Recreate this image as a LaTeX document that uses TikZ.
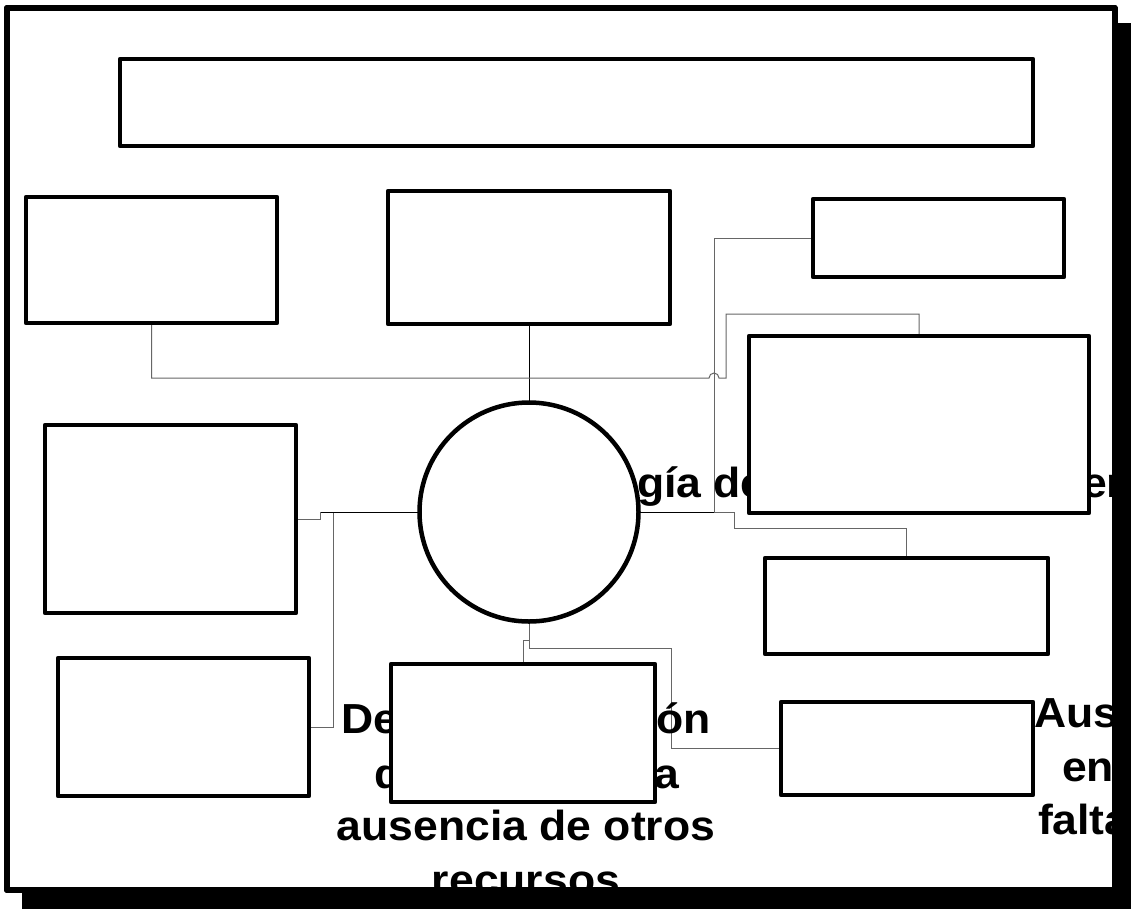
\documentclass[tikz,border=0pt]{standalone}
\usepackage{fontspec}
\setmainfont{Liberation Sans}
\usepackage{graphicx}
\begin{document}
\begin{tikzpicture}[x=1pt,y=-1pt,
  box/.style={rectangle, draw=black, fill=white, line width=4.5pt, line join=round, inner sep=0pt, outer sep=0pt},
  ring/.style={circle, draw=black, fill=white, line width=4.5pt, inner sep=0pt, outer sep=0pt},
  conn/.style={line width=1pt, draw=black!60},
  connk/.style={line width=1pt, draw=black},
  lbl/.style={inner sep=0pt, outer sep=0pt, font=\bfseries\fontsize{42}{53.5}\selectfont}]
\useasboundingbox (0,0) rectangle (1131,908);
% shadow and frame
\fill[black] (22,23) rectangle (1140,920);
\draw[line width=6pt, fill=white, line join=round] (7,8) rectangle (1114.5,890);

% node geometry (shapes drawn later on top of the texts)
\path (576.5,102.5) node[box, draw=none, fill=none, minimum width=913pt, minimum height=87pt] (title) {};
\path (151.5,260) node[box, draw=none, fill=none, minimum width=251pt, minimum height=126pt] (tl) {};
\path (529,257.5) node[box, draw=none, fill=none, minimum width=282pt, minimum height=133pt] (tm) {};
\path (938.5,238) node[box, draw=none, fill=none, minimum width=251pt, minimum height=78pt] (tr) {};
\path (919,424.5) node[box, draw=none, fill=none, minimum width=340pt, minimum height=177pt] (rbig) {};
\path (906.5,606) node[box, draw=none, fill=none, minimum width=283pt, minimum height=96pt] (rmid) {};
\path (907,748.5) node[box, draw=none, fill=none, minimum width=252pt, minimum height=93pt] (rlow) {};
\path (523,733) node[box, draw=none, fill=none, minimum width=264pt, minimum height=138pt] (bm) {};
\path (170.5,519) node[box, draw=none, fill=none, minimum width=251pt, minimum height=188pt] (lmid) {};
\path (183.5,727) node[box, draw=none, fill=none, minimum width=251pt, minimum height=138pt] (llow) {};
\path (529,512) node[ring, draw=none, fill=none, minimum size=219pt] (circ) {};

% connectors
\draw[connk] (tm.south) -- (circ.north);
\draw[conn] (tl.south) |- (709,378) arc[start angle=180, end angle=0, radius=5pt] -- (726,378) -- (726,314) -| (rbig.north);
\draw[conn] (tr.west) -| (714,512) -- (circ.east);
\draw[conn] (circ.east) -- (734,512) -- (734,528) -| (rmid.north);
\draw[connk] (circ.east) -- (714,512);
\draw[connk] (circ.west) -- (320,512);
\draw[conn] (320,512) |- (lmid.east);
\draw[conn] (circ.west) -- (333,512) |- (llow.east);
\draw[connk] (circ.west) -- (333,512);
\draw[conn] (circ.south) |- (523,640) -- (bm.north);
\draw[conn] (circ.south) |- (671,648) |- (rlow.west);

% texts (partly hidden behind shapes)
\node[lbl, anchor=base west] (ta) at (637,497) {\scalebox{1.06}[1]{gía de}};
\node[lbl, anchor=base west] (tb) at (1082,497) {\scalebox{1.06}[1]{en}};
\node[lbl, anchor=base west] (tc) at (341,733) {\scalebox{1.06}[1]{De}};
\node[lbl, anchor=base east] (td) at (711,733) {\scalebox{1.06}[1]{ón}};
\node[lbl, anchor=base west] (te) at (374,788) {\scalebox{1.06}[1]{d}};
\node[lbl, anchor=base east] (tf) at (679,788) {\scalebox{1.06}[1]{a}};
\node[lbl, anchor=base] (tg) at (526,840) {\scalebox{1.06}[1]{ausencia de otros}};
\node[lbl, anchor=base] (th) at (526,894) {\scalebox{1.06}[1]{recursos}};
\node[lbl, anchor=base west] (ti) at (1034,727) {\scalebox{1.06}[1]{Aus}};
\node[lbl, anchor=base west] (tj) at (1062,781) {\scalebox{1.06}[1]{en}};
\node[lbl, anchor=base west] (tk) at (1038,834) {\scalebox{1.06}[1]{falta}};

% shapes on top
\node[box, minimum width=913pt, minimum height=87pt] at (title.center) {};
\node[box, minimum width=251pt, minimum height=126pt] at (tl.center) {};
\node[box, minimum width=282pt, minimum height=133pt] at (tm.center) {};
\node[box, minimum width=251pt, minimum height=78pt] at (tr.center) {};
\node[box, minimum width=340pt, minimum height=177pt] at (rbig.center) {};
\node[box, minimum width=283pt, minimum height=96pt] at (rmid.center) {};
\node[box, minimum width=252pt, minimum height=93pt] at (rlow.center) {};
\node[box, minimum width=264pt, minimum height=138pt] at (bm.center) {};
\node[box, minimum width=251pt, minimum height=188pt] at (lmid.center) {};
\node[box, minimum width=251pt, minimum height=138pt] at (llow.center) {};
\node[ring, minimum size=219pt] at (circ.center) {};

% frame edge and shadow over overflowing text
\fill[black] (1117.5,23) rectangle (1140,920);
\fill[black] (22,893) rectangle (1140,920);
\draw[line width=6pt, line join=round] (7,8) rectangle (1114.5,890);
\end{tikzpicture}
\end{document}
